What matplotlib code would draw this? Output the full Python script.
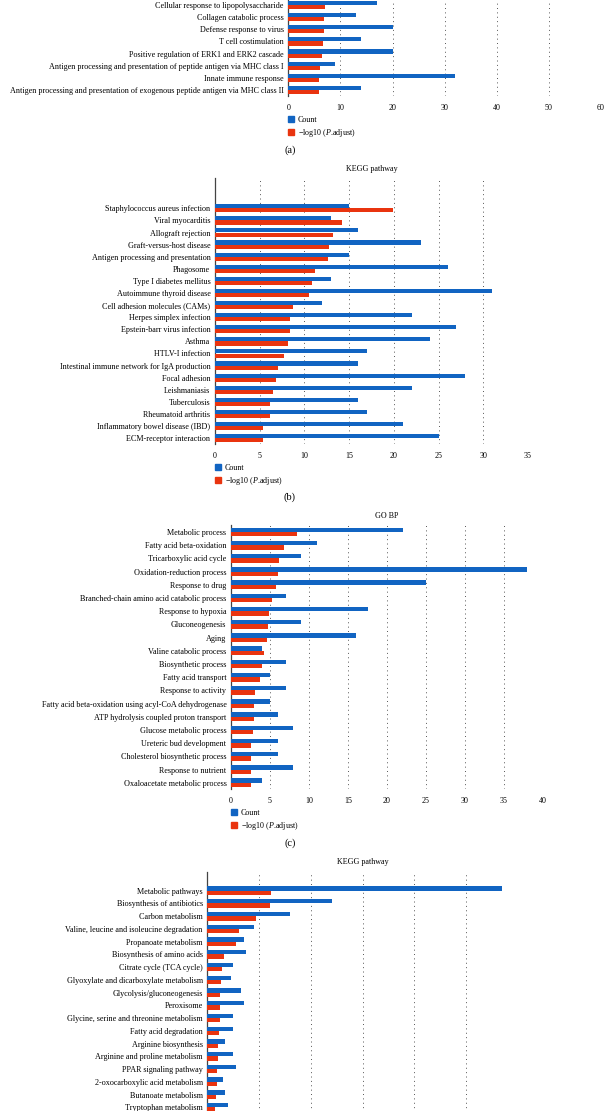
import numpy as np
import matplotlib.pyplot as plt
from matplotlib.patches import Patch

plt.rcParams['font.family'] = ['Liberation Serif', 'DejaVu Serif']
plt.rcParams['mathtext.fontset'] = 'custom'
plt.rcParams['mathtext.rm'] = 'Liberation Serif'
plt.rcParams['mathtext.it'] = 'Liberation Serif:italic'

W, H = 604, 1111
BLUE = '#1164C2'
RED = '#E9340F'
FS = 5.9
TFS = 5.8

# (a) GO BP, upper part of the panel is cut off in the source
a_terms = ['Cellular response to lipopolysaccharide', 'Collagen catabolic process',
           'Defense response to virus', 'T cell costimulation',
           'Positive regulation of ERK1 and ERK2 cascade',
           'Antigen processing and presentation of peptide antigen via MHC class I',
           'Innate immune response',
           'Antigen processing and presentation of exogenous peptide antigen via MHC class II']
a_count = [17, 13, 20, 14, 20, 9, 32, 14]
a_logp = [7.0, 6.8, 6.8, 6.7, 6.4, 6.1, 5.9, 5.8]

# (b) KEGG pathway
b_terms = ['Staphylococcus aureus infection', 'Viral myocarditis', 'Allograft rejection',
           'Graft-versus-host disease', 'Antigen processing and presentation', 'Phagosome',
           'Type I diabetes mellitus', 'Autoimmune thyroid disease',
           'Cell adhesion molecules (CAMs)', 'Herpes simplex infection',
           'Epstein-barr virus infection', 'Asthma', 'HTLV-I infection',
           'Intestinal immune network for IgA production', 'Focal adhesion', 'Leishmaniasis',
           'Tuberculosis', 'Rheumatoid arthritis', 'Inflammatory bowel disease (IBD)',
           'ECM-receptor interaction']
b_count = [15, 13, 16, 23, 15, 26, 13, 31, 12, 22, 27, 24, 17, 16, 28, 22, 16, 17, 21, 25]
b_logp = [19.9, 14.2, 13.2, 12.8, 12.6, 11.2, 10.9, 10.5, 8.7, 8.4, 8.4, 8.2, 7.7, 7.0,
          6.8, 6.5, 6.2, 6.1, 5.4, 5.4]

# (c) GO BP
c_terms = ['Metabolic process', 'Fatty acid beta-oxidation', 'Tricarboxylic acid cycle',
           'Oxidation-reduction process', 'Response to drug',
           'Branched-chain amino acid catabolic process', 'Response to hypoxia',
           'Gluconeogenesis', 'Aging', 'Valine catabolic process', 'Biosynthetic process',
           'Fatty acid transport', 'Response to activity',
           'Fatty acid beta-oxidation using acyl-CoA dehydrogenase',
           'ATP hydrolysis coupled proton transport', 'Glucose metabolic process',
           'Ureteric bud development', 'Cholesterol biosynthetic process',
           'Response to nutrient', 'Oxaloacetate metabolic process']
c_count = [22, 11, 9, 38, 25, 7, 17.5, 9, 16, 4, 7, 5, 7, 5, 6, 8, 6, 6, 8, 4]
c_logp = [8.5, 6.8, 6.2, 6.0, 5.8, 5.2, 4.9, 4.8, 4.6, 4.2, 4.0, 3.7, 3.1, 3.0, 2.9,
          2.8, 2.6, 2.6, 2.6, 2.5]

# (d) KEGG pathway, lower part of the panel is cut off in the source
d_terms = ['Metabolic pathways', 'Biosynthesis of antibiotics', 'Carbon metabolism',
           'Valine, leucine and isoleucine degradation', 'Propanoate metabolism',
           'Biosynthesis of amino acids', 'Citrate cycle (TCA cycle)',
           'Glyoxylate and dicarboxylate metabolism', 'Glycolysis/gluconeogenesis',
           'Peroxisome', 'Glycine, serine and threonine metabolism', 'Fatty acid degradation',
           'Arginine biosynthesis', 'Arginine and proline metabolism', 'PPAR signaling pathway',
           '2-oxocarboxylic acid metabolism', 'Butanoate metabolism', 'Tryptophan metabolism']
d_count = [57, 24, 16, 9, 7, 7.5, 5, 4.5, 6.5, 7, 5, 5, 3.5, 5, 5.5, 3, 3.5, 4]
d_logp = [12.3, 12.1, 9.4, 6.2, 5.5, 3.3, 2.9, 2.6, 2.5, 2.4, 2.4, 2.3, 2.0, 2.0, 1.9,
          1.8, 1.6, 1.5]

fig = plt.figure(figsize=(W / 100, H / 100), dpi=100)


def fx(px):
    return px / W


def fy(py):
    return 1 - py / H


def panel(terms, counts, logp, left, right, top, first, step, bottom, xmax, xstep,
          title=None, legend_at=None, letter=None, xlabels=True):
    ax = fig.add_axes([fx(left), fy(bottom), (right - left) / W, (bottom - top) / H])
    y = np.arange(len(terms))
    h = 0.34
    ax.barh(y - h / 2, counts, height=h, color=BLUE, label='Count', zorder=3)
    ax.barh(y + h / 2, logp, height=h, color=RED,
            label=r'$-$log10 ($\mathit{P}$.adjust)', zorder=3)
    ax.set_yticks(y)
    ax.set_yticklabels(terms, fontsize=FS)
    ax.set_ylim((bottom - first) / step, (top - first) / step)
    ax.set_xlim(0, xmax)
    ax.set_xticks(np.arange(0, xmax + 1, xstep))
    ax.tick_params(axis='x', length=0, pad=5.4, labelsize=TFS, labelbottom=xlabels)
    ax.tick_params(axis='y', length=0, pad=3.3)
    for s in ['top', 'right', 'bottom']:
        ax.spines[s].set_visible(False)
    ax.spines['left'].set_color('#444444')
    ax.spines['left'].set_linewidth(0.9)
    ax.xaxis.grid(True, linestyle=(0, (1, 3.5)), color='#555555', linewidth=0.7, zorder=0)
    ax.set_axisbelow(True)
    if title:
        fig.text(fx((left + right) / 2), fy(top - 9.5), title, ha='center', va='center',
                 fontsize=TFS)
    if legend_at:
        handles = [Patch(color=BLUE), Patch(color=RED)]
        ax.legend(handles, ['Count', r'$-$log10 ($\mathit{P}$.adjust)'],
                  loc='upper left', bbox_to_anchor=(fx(legend_at[0]), fy(legend_at[1])),
                  bbox_transform=fig.transFigure, frameon=False, fontsize=TFS,
                  handlelength=0.7, handleheight=0.7, handletextpad=0.5,
                  labelspacing=0.35, borderpad=0, borderaxespad=0)
    if letter:
        fig.text(fx(290), fy(letter[1]), letter[0], ha='center', va='center', fontsize=7.5)
    return ax


panel(a_terms, a_count, a_logp, 288.3, 601, 0, 5, 12.15, 96, 60, 10,
      legend_at=(288, 116), letter=('(a)', 150))
panel(b_terms, b_count, b_logp, 215, 528, 178.3, 208.3, 12.1, 444.3, 35, 5,
      title='KEGG pathway', legend_at=(215, 464), letter=('(b)', 497))
panel(c_terms, c_count, c_logp, 231, 543, 525, 532, 13.2, 789.4, 40, 5,
      title='GO BP', legend_at=(231, 809), letter=('(c)', 843.5))
panel(d_terms, d_count, d_logp, 207.3, 518, 871.5, 890.7, 12.74, 1118, 60, 10,
      title='KEGG pathway', xlabels=False)

fig.savefig('out.png', dpi=100)
